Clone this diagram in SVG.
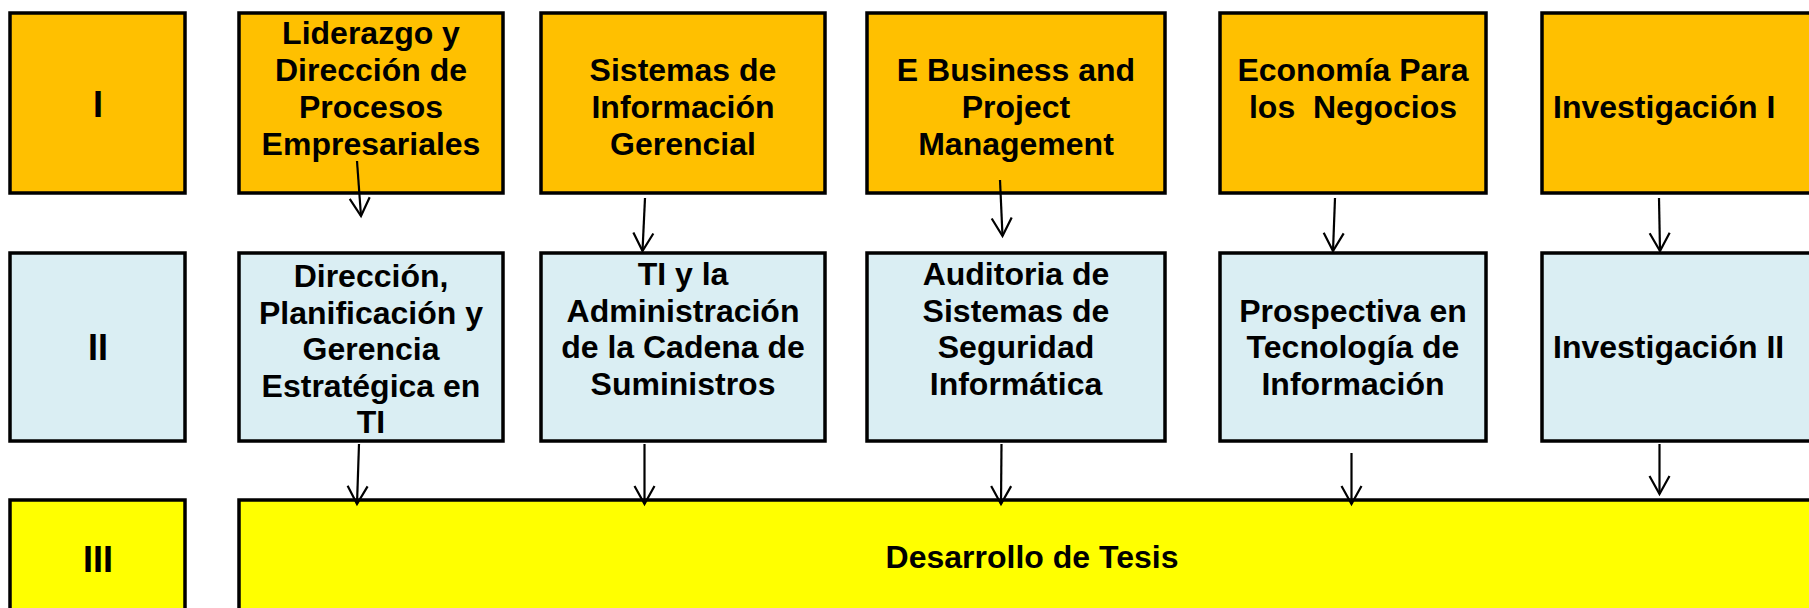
<svg xmlns="http://www.w3.org/2000/svg" width="1809" height="608" viewBox="0 0 1809 608">
<defs>
<style>
.box{stroke:#000;stroke-width:3.5}
.o{fill:#FFC000}
.b{fill:#DAEEF3}
.y{fill:#FFFF00}
text{font-family:"Liberation Sans",Arial,sans-serif;font-weight:bold;fill:#000}
.t{font-size:32px;text-anchor:middle}
.n{font-size:36px;text-anchor:middle}
.c{stroke:#000;stroke-width:2.2;fill:none}
</style>
<marker id="ah" markerWidth="24" markerHeight="24" viewBox="-20 -12 24 24" refX="0" refY="0" orient="auto" markerUnits="userSpaceOnUse">
<path d="M-18,-10 L0,0 L-18,10" fill="none" stroke="#000" stroke-width="2.2"/>
</marker>
</defs>
<rect width="1809" height="608" fill="#fff"/>

<g id="n-I"><rect class="box o" x="10" y="13" width="175" height="180"/><text class="n" x="98" y="117">I</text></g>
<g id="n-liderazgo"><rect class="box o" x="239" y="13" width="264" height="180"/>
<text class="t" x="371" y="44">Liderazgo y</text><text class="t" x="371" y="81">Dirección de</text><text class="t" x="371" y="118">Procesos</text><text class="t" x="371" y="155">Empresariales</text></g>
<g id="n-sistemas"><rect class="box o" x="541" y="13" width="284" height="180"/>
<text class="t" x="683" y="81">Sistemas de</text><text class="t" x="683" y="118">Información</text><text class="t" x="683" y="155">Gerencial</text></g>
<g id="n-ebusiness"><rect class="box o" x="867" y="13" width="298" height="180"/>
<text class="t" x="1016" y="81">E Business and</text><text class="t" x="1016" y="118">Project</text><text class="t" x="1016" y="155">Management</text></g>
<g id="n-economia"><rect class="box o" x="1220" y="13" width="266" height="180"/>
<text class="t" x="1353" y="81">Economía Para</text><text class="t" x="1353" y="118" xml:space="preserve">los  Negocios</text></g>
<g id="n-inv1"><rect class="box o" x="1542" y="13" width="320" height="180"/>
<text x="1553" y="118" font-size="32">Investigación I</text></g>

<g id="n-II"><rect class="box b" x="10" y="253" width="175" height="188"/><text class="n" x="98" y="360">II</text></g>
<g id="n-direccion"><rect class="box b" x="239" y="253" width="264" height="188"/>
<text class="t" x="371" y="287">Dirección,</text><text class="t" x="371" y="323.5">Planificación y</text><text class="t" x="371" y="360">Gerencia</text><text class="t" x="371" y="396.5">Estratégica en</text><text class="t" x="371" y="433">TI</text></g>
<g id="n-ti"><rect class="box b" x="541" y="253" width="284" height="188"/>
<text class="t" x="683" y="285">TI y la</text><text class="t" x="683" y="321.5">Administración</text><text class="t" x="683" y="358">de la Cadena de</text><text class="t" x="683" y="394.5">Suministros</text></g>
<g id="n-auditoria"><rect class="box b" x="867" y="253" width="298" height="188"/>
<text class="t" x="1016" y="285">Auditoria de</text><text class="t" x="1016" y="321.5">Sistemas de</text><text class="t" x="1016" y="358">Seguridad</text><text class="t" x="1016" y="394.5">Informática</text></g>
<g id="n-prospectiva"><rect class="box b" x="1220" y="253" width="266" height="188"/>
<text class="t" x="1353" y="321.5">Prospectiva en</text><text class="t" x="1353" y="358">Tecnología de</text><text class="t" x="1353" y="394.5">Información</text></g>
<g id="n-inv2"><rect class="box b" x="1542" y="253" width="320" height="188"/>
<text x="1553" y="358" font-size="32">Investigación II</text></g>

<g id="n-III"><rect class="box y" x="10" y="500" width="175" height="140"/><text class="n" x="98" y="572">III</text></g>
<g id="n-tesis"><rect class="box y" x="239" y="500" width="1620" height="140"/>
<text class="t" x="1032" y="568">Desarrollo de Tesis</text></g>

<g id="connectors">
<line class="c" x1="357" y1="161" x2="361" y2="216" marker-end="url(#ah)"/>
<line class="c" x1="645" y1="198" x2="642.5" y2="251" marker-end="url(#ah)"/>
<line class="c" x1="1000" y1="180" x2="1002.5" y2="236" marker-end="url(#ah)"/>
<line class="c" x1="1335" y1="198" x2="1333" y2="251" marker-end="url(#ah)"/>
<line class="c" x1="1659" y1="198" x2="1660" y2="251" marker-end="url(#ah)"/>
<line class="c" x1="359" y1="444" x2="357" y2="504" marker-end="url(#ah)"/>
<line class="c" x1="644.5" y1="444" x2="644.5" y2="504" marker-end="url(#ah)"/>
<line class="c" x1="1001.5" y1="444" x2="1001" y2="504" marker-end="url(#ah)"/>
<line class="c" x1="1351.5" y1="453" x2="1351.5" y2="504" marker-end="url(#ah)"/>
<line class="c" x1="1659.5" y1="444" x2="1659.5" y2="494" marker-end="url(#ah)"/>
</g>
</svg>
